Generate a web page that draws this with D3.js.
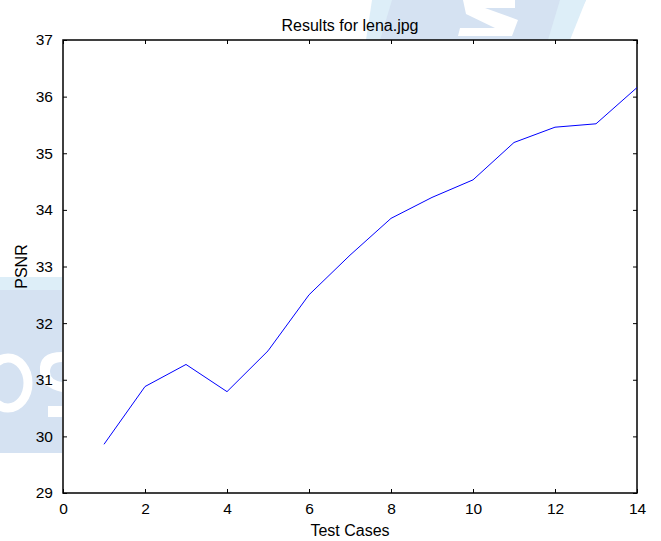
<!DOCTYPE html>
<html>
<head>
<meta charset="utf-8">
<script src="https://cdn.jsdelivr.net/npm/d3@7"></script>
<style>
  body { margin: 0; background: #fff; }
  text { font-family: "Liberation Sans", Arial, sans-serif; fill: #000; }
</style>
</head>
<body>
<div id="chart-area"></div>
<script>
// data
var testCases = [1, 2, 3, 4, 5, 6, 7, 8, 9, 10, 11, 12, 13, 14];
var psnr = [29.86, 30.88, 31.27, 30.79, 31.51, 32.50, 33.20, 33.85, 34.22, 34.53, 35.19, 35.46, 35.52, 36.16];
var xTicks = [0, 2, 4, 6, 8, 10, 12, 14];
var yTicks = [29, 30, 31, 32, 33, 34, 35, 36, 37];

var margin = {left:63, right:24, top:40, bottom:48};
var W = 661, H = 541;
var width = W - margin.left - margin.right;
var height = H - margin.top - margin.bottom;

var svg = d3.select("#chart-area").append("svg")
    .attr("width", W)
    .attr("height", H);

// faint watermark behind the figure
var wm = svg.append("g");
wm.append("polygon").attr("points", "380,0 586,0 566,40 372,40").attr("fill", "#d5e2f2");
wm.append("polygon").attr("points", "372,0 392,0 380,40 366,40").attr("fill", "#ddeef8");
wm.append("polygon").attr("points", "560,0 586,0 570,40 548,40").attr("fill", "#ddeef8");
wm.append("path").attr("d", "M463,0 L515,0 L515,8 L485,8 L518,20 L512,36 L458,36 L460,28 L495,28 L466,14 Z").attr("fill", "#fff");
wm.append("rect").attr("x", 0).attr("y", 277).attr("width", 62).attr("height", 13).attr("fill", "#ddeef8");
wm.append("rect").attr("x", 0).attr("y", 290).attr("width", 62).attr("height", 163).attr("fill", "#d5e2f2");
wm.append("ellipse").attr("cx", 8).attr("cy", 383).attr("rx", 20).attr("ry", 25)
    .attr("fill", "none").attr("stroke", "#fff").attr("stroke-width", 9);
wm.append("path").attr("d", "M62,352 Q38,352 40,372 Q42,388 62,392 L62,382 Q50,380 50,372 Q50,362 62,362 Z").attr("fill", "#fff");
wm.append("rect").attr("x", 48).attr("y", 406).attr("width", 14).attr("height", 11).attr("fill", "#fff");

var g = svg.append("g")
    .attr("transform", "translate(" + margin.left + "," + margin.top + ")");

g.append("rect")
    .attr("width", width)
    .attr("height", height)
    .attr("fill", "#fff");

var x = d3.scaleLinear().domain([0, 14]).range([0, width]);
var y = d3.scaleLinear().domain([29, 37]).range([height, 0]);

// ticks inward on all four sides, like matlab
var tickLen = 4;
g.append("g")
    .attr("transform", "translate(0," + height + ")")
    .call(d3.axisBottom(x).tickValues(xTicks).tickSizeInner(-tickLen).tickSizeOuter(0).tickPadding(10))
    .call(function(a){ a.select(".domain").remove(); });
g.append("g")
    .call(d3.axisTop(x).tickValues(xTicks).tickSizeInner(-tickLen).tickSizeOuter(0).tickFormat(""))
    .call(function(a){ a.select(".domain").remove(); });
g.append("g")
    .call(d3.axisLeft(y).tickValues(yTicks).tickSizeInner(-tickLen).tickSizeOuter(0).tickPadding(10))
    .call(function(a){ a.select(".domain").remove(); });
g.append("g")
    .attr("transform", "translate(" + width + ",0)")
    .call(d3.axisRight(y).tickValues(yTicks).tickSizeInner(-tickLen).tickSizeOuter(0).tickFormat(""))
    .call(function(a){ a.select(".domain").remove(); });

g.selectAll(".tick line").attr("stroke", "#000").attr("stroke-width", 1);
g.selectAll(".tick text")
    .attr("font-family", "Liberation Sans, Arial, sans-serif")
    .attr("font-size", "15.5px")
    .attr("fill", "#000");

g.append("rect")
    .attr("width", width)
    .attr("height", height)
    .attr("fill", "none")
    .attr("stroke", "#000")
    .attr("stroke-width", 1.5);

var line = d3.line()
    .x(function(d, i){ return x(testCases[i]); })
    .y(function(d){ return y(d); });

g.append("path")
    .datum(psnr)
    .attr("d", line)
    .attr("fill", "none")
    .attr("stroke", "#0000ff")
    .attr("stroke-width", 1);

// title
g.append("text")
    .attr("x", width / 2)
    .attr("y", -9)
    .attr("font-size", "16px")
    .attr("text-anchor", "middle")
    .text("Results for lena.jpg");

// X Label
g.append("text")
    .attr("x", width / 2)
    .attr("y", height + 43)
    .attr("font-size", "16px")
    .attr("text-anchor", "middle")
    .text("Test Cases");

// Y Label
g.append("text")
    .attr("x", -(height / 2))
    .attr("y", -36)
    .attr("font-size", "16px")
    .attr("text-anchor", "middle")
    .attr("transform", "rotate(-90)")
    .text("PSNR");
</script>
</body>
</html>
